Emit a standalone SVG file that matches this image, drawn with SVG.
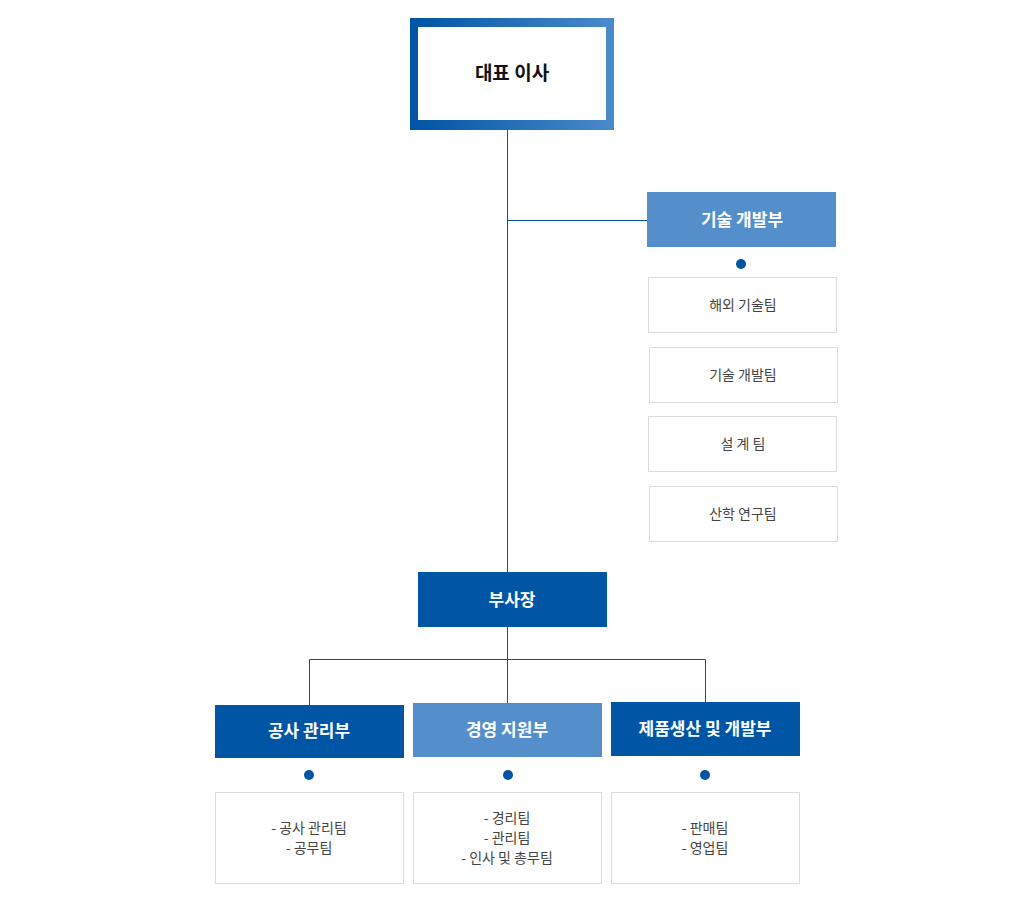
<svg xmlns="http://www.w3.org/2000/svg" width="1015" height="912" viewBox="0 0 1015 912">
<style>
text{font-family:"Noto Sans CJK KR","Noto Sans",sans-serif;text-anchor:middle}
.h{font-size:17px;font-weight:bold;fill:#fff}
.s{font-size:14px;fill:#444}
.sub{fill:#fff;stroke:#dcdcdc}
.dk{fill:#0055a5}.lt{fill:#548fcc}
.dot{fill:#0055a5}
.c{stroke:#0055a5;stroke-width:1;fill:none}
</style>
<defs><linearGradient id="g" x1="0" x2="1"><stop offset="0" stop-color="#0053a4"/><stop offset="1" stop-color="#4a8bcb"/></linearGradient></defs>
<g id="connectors">
<path class="c" d="M507.5 130V572M507 220.5H647M507.5 627V659.5M309.5 705V659.5H705.5V702M507.5 659V703"/>
</g>
<g id="ceo"><rect x="410" y="18" width="204" height="112" fill="url(#g)"/><rect x="418" y="27" width="188" height="93" fill="#fff"/><text x="512" y="80" style="font-size:19px;font-weight:bold;fill:#111">대표 이사</text></g>
<g id="tech"><rect class="lt" x="647" y="192" width="189" height="55"/><text class="h" x="742" y="226">기술 개발부</text><circle class="dot" cx="741" cy="264" r="5"/></g>
<g id="t1"><rect class="sub" x="648.5" y="277.5" width="188" height="55"/><text class="s" x="743" y="310">해외 기술팀</text></g>
<g id="t2"><rect class="sub" x="649.5" y="347.5" width="188" height="55"/><text class="s" x="743" y="380">기술 개발팀</text></g>
<g id="t3"><rect class="sub" x="648.5" y="416.5" width="188" height="55"/><text class="s" x="743" y="449">설 계 팀</text></g>
<g id="t4"><rect class="sub" x="649.5" y="486.5" width="188" height="55"/><text class="s" x="743" y="519">산학 연구팀</text></g>
<g id="vp"><rect class="dk" x="418" y="572" width="189" height="55"/><text class="h" x="512" y="606">부사장</text></g>
<g id="d1"><rect class="dk" x="215" y="705" width="189" height="53"/><text class="h" x="309" y="737">공사 관리부</text><circle class="dot" cx="309" cy="775" r="5"/><rect class="sub" x="215.5" y="792.5" width="188" height="91"/><text class="s" x="309" y="833">- 공사 관리팀</text><text class="s" x="309" y="853">- 공무팀</text></g>
<g id="d2"><rect class="lt" x="413" y="703" width="189" height="54"/><text class="h" x="507" y="736">경영 지원부</text><circle class="dot" cx="508" cy="775" r="5"/><rect class="sub" x="413.5" y="792.5" width="188" height="91"/><text class="s" x="507" y="823">- 경리팀</text><text class="s" x="507" y="843">- 관리팀</text><text class="s" x="507" y="863">- 인사 및 총무팀</text></g>
<g id="d3"><rect class="dk" x="611" y="702" width="189" height="54"/><text class="h" x="705" y="735">제품생산 및 개발부</text><circle class="dot" cx="705" cy="775" r="5"/><rect class="sub" x="611.5" y="792.5" width="188" height="91"/><text class="s" x="705" y="833">- 판매팀</text><text class="s" x="705" y="853">- 영업팀</text></g>
</svg>
